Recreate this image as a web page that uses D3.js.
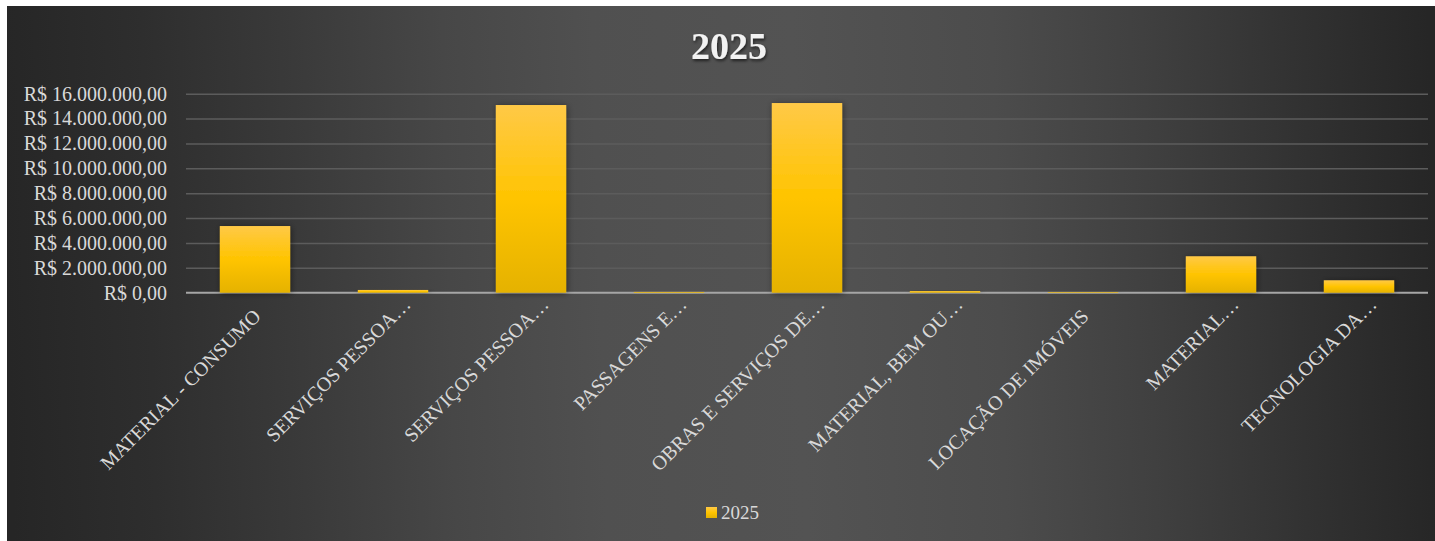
<!DOCTYPE html>
<html>
<head>
<meta charset="utf-8">
<script src="https://cdn.jsdelivr.net/npm/d3@7"></script>
<style>
  html, body { margin: 0; padding: 0; background: #ffffff; }
  svg { display: block; }
</style>
</head>
<body>
<svg id="chart" width="1435" height="541"></svg>
<script>
// ---- data ----
const categories = [
  "MATERIAL - CONSUMO",
  "SERVIÇOS PESSOA…",
  "SERVIÇOS PESSOA…",
  "PASSAGENS E…",
  "OBRAS E SERVIÇOS DE…",
  "MATERIAL, BEM OU…",
  "LOCAÇÃO DE IMÓVEIS",
  "MATERIAL…",
  "TECNOLOGIA DA…"
];
const values2025 = [5360000, 220000, 15090000, 60000, 15250000, 130000, 50000, 2930000, 1000000];
const yTicks = [0, 2000000, 4000000, 6000000, 8000000, 10000000, 12000000, 14000000, 16000000];
const seriesName = "2025";
const chartTitle = "2025";

// ---- layout ----
const svg = d3.select("#chart");
const W = 1435, H = 541;
const frame = { x: 7, y: 6, w: W - 7, h: H - 6 };
const plot = { left: 186, right: 1428, top: 93.7, bottom: 292.7 };

const defs = svg.append("defs");
const bg = defs.append("linearGradient").attr("id", "bg")
  .attr("gradientUnits", "userSpaceOnUse")
  .attr("x1", 7).attr("y1", 300).attr("x2", 1435).attr("y2", 260);
[[0, "#262626"], [0.1, "#2e2e2e"], [0.205, "#3a3a3a"], [0.31, "#474747"], [0.415, "#505050"],
 [0.555, "#535353"], [0.695, "#4c4c4c"], [0.8, "#404040"], [0.905, "#323232"], [1, "#262626"]]
  .forEach(([o, c]) => bg.append("stop").attr("offset", o).attr("stop-color", c));

const barGrad = defs.append("linearGradient").attr("id", "barGrad")
  .attr("x1", 0).attr("y1", 0).attr("x2", 0).attr("y2", 1);
barGrad.append("stop").attr("offset", "0").attr("stop-color", "#ffc947");
barGrad.append("stop").attr("offset", "0.5").attr("stop-color", "#ffc400");
barGrad.append("stop").attr("offset", "1").attr("stop-color", "#e5b200");

const shadow = defs.append("filter").attr("id", "shadow")
  .attr("x", "-30%").attr("y", "-30%").attr("width", "160%").attr("height", "160%");
shadow.append("feDropShadow").attr("dx", 1).attr("dy", 1).attr("stdDeviation", 3)
  .attr("flood-color", "#000").attr("flood-opacity", 0.45);

const titleShadow = defs.append("filter").attr("id", "tshadow")
  .attr("x", "-20%").attr("y", "-30%").attr("width", "140%").attr("height", "160%");
titleShadow.append("feDropShadow").attr("dx", 1).attr("dy", 2).attr("stdDeviation", 1.5)
  .attr("flood-color", "#000").attr("flood-opacity", 0.6);

svg.append("rect").attr("x", frame.x).attr("y", frame.y)
  .attr("width", frame.w).attr("height", frame.h).attr("fill", "url(#bg)");

// ---- scales ----
const x = d3.scaleBand().domain(d3.range(categories.length))
  .range([plot.left, plot.right]).paddingInner(0.49).paddingOuter(0.245);
const y = d3.scaleLinear().domain([0, 16000000]).range([plot.bottom, plot.top]);

const locale = d3.formatLocale({ decimal: ",", thousands: ".", grouping: [3], currency: ["R$ ", ""] });
const fmt = locale.format("$,.2f");

const font = "'Liberation Serif', 'Times New Roman', serif";

// gridlines + y labels
const yAxis = d3.axisLeft(y).tickValues(yTicks).tickFormat(fmt)
  .tickSize(-(plot.right - plot.left)).tickPadding(19);
const gy = svg.append("g").attr("transform", `translate(${plot.left},0)`).call(yAxis);
gy.select(".domain").remove();
gy.selectAll(".tick line").attr("stroke", "#5c5c5c").attr("stroke-width", 1.5)
  .attr("opacity", d => d === 0 ? 0 : 1);
gy.selectAll(".tick text").attr("fill", "#d9d9d9")
  .style("font-family", font).style("font-size", "20px");

// baseline
svg.append("line").attr("x1", plot.left).attr("x2", plot.right)
  .attr("y1", y(0)).attr("y2", y(0))
  .attr("stroke", "#a6a6a6").attr("stroke-width", 2);

// bars
svg.append("g").selectAll("rect").data(values2025).join("rect")
  .attr("x", (d, i) => x(i))
  .attr("y", d => y(d))
  .attr("width", x.bandwidth())
  .attr("height", d => y(0) - y(d))
  .attr("fill", "url(#barGrad)")
  .attr("filter", "url(#shadow)");

// x labels
const xAxis = d3.axisBottom(x).tickFormat(i => categories[i]).tickSize(0).tickPadding(0);
const gx = svg.append("g").attr("transform", `translate(0,${plot.bottom})`).call(xAxis);
gx.select(".domain").remove();
gx.selectAll(".tick text")
  .attr("fill", "#d9d9d9")
  .style("font-family", font).style("font-size", "20px")
  .attr("text-anchor", "end")
  .attr("x", 0).attr("y", 0).attr("dy", "0.7em")
  .attr("dx", i => categories[i].endsWith("…") ? 17 : 0)
  .attr("transform", "translate(-3,15) rotate(-45)");

// title
svg.append("text").attr("x", 729).attr("y", 59)
  .attr("text-anchor", "middle")
  .attr("fill", "#f2f2f2")
  .attr("filter", "url(#tshadow)")
  .style("font-family", font).style("font-size", "38px").style("font-weight", "bold")
  .text(chartTitle);

// legend
const lg = svg.append("g").attr("transform", "translate(706,507)");
lg.append("rect").attr("width", 11).attr("height", 11).attr("fill", "url(#barGrad)");
lg.append("text").attr("x", 15).attr("y", 12)
  .attr("fill", "#d9d9d9")
  .style("font-family", font).style("font-size", "19px")
  .text(seriesName);
</script>
</body>
</html>
